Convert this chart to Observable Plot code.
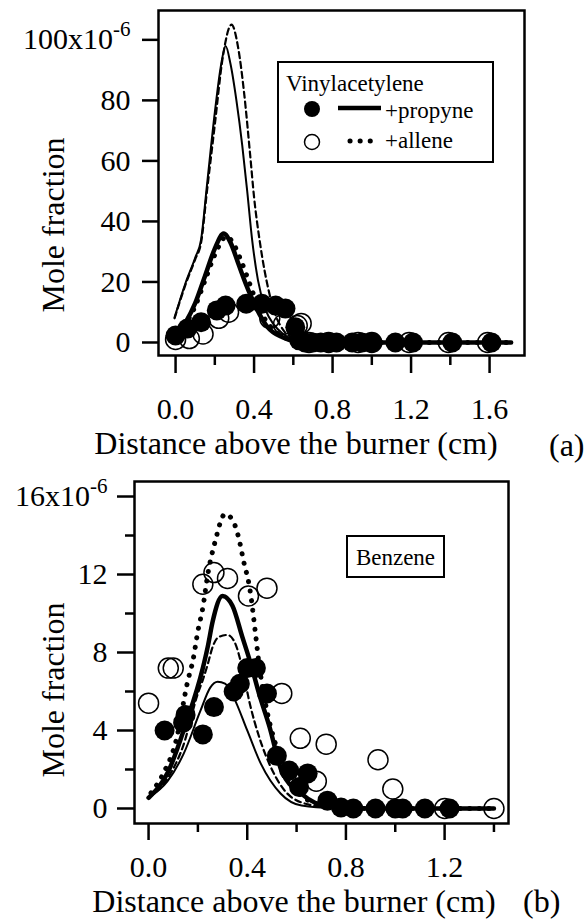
<!DOCTYPE html>
<html><head><meta charset="utf-8">
<script src="https://cdn.jsdelivr.net/npm/d3@7"></script>
<script src="https://cdn.jsdelivr.net/npm/@observablehq/plot@0.6"></script>
<style>
body{margin:0;background:#fff;}
#wrap{position:relative;width:584px;height:920px;background:#fff;}
#wrap svg{position:absolute;left:0;overflow:visible;}
</style></head><body><div id="wrap"></div>
<script>
// ---------- Panel (a): Vinylacetylene ----------
const aPropyneX = [0.0, 0.06, 0.13, 0.21, 0.255, 0.36, 0.44, 0.51, 0.56, 0.61, 0.63, 0.66, 0.70, 0.74, 0.78, 0.82, 0.90, 0.95, 1.0, 1.12, 1.21, 1.41, 1.61];
const aPropyneY = [2.3, 4.6, 6.7, 10.6, 12.2, 12.8, 12.8, 12.2, 11.2, 5.0, 0.7, 0, 0, 0, 0, 0, 0, 0, 0, 0, 0, 0, 0];
const aAlleneX = [0.0, 0.07, 0.14, 0.22, 0.27, 0.48, 0.55, 0.62, 0.64, 0.68, 0.78, 0.93, 1.0, 1.19, 1.39, 1.59];
const aAlleneY = [1.0, 1.3, 2.8, 8.0, 10.0, 8.0, 6.0, 5.6, 6.3, 0, 0, 0, 0, 0, 0, 0];
const aModelPropyneX = [0.015, 0.05, 0.1, 0.15, 0.2, 0.245, 0.28, 0.32, 0.36, 0.41, 0.47, 0.545, 0.6, 0.7, 1.0, 1.4, 1.71];
const aModelPropyneY = [3, 6.5, 13, 22, 31, 36, 33, 26, 19, 11.6, 5, 1.7, 0.5, 0, 0, 0, 0];
const aModelAlleneX = [0.015, 0.05, 0.1, 0.15, 0.2, 0.26, 0.3, 0.34, 0.38, 0.42, 0.48, 0.55, 0.62, 0.7, 1.0, 1.4, 1.71];
const aModelAlleneY = [2.8, 6, 12, 20.5, 29, 35, 32, 26, 19, 12, 5.5, 1.8, 0.5, 0, 0, 0, 0];
const aModel2PropyneX = [-0.005, 0.05, 0.1, 0.13, 0.16, 0.2, 0.23, 0.255, 0.28, 0.31, 0.34, 0.365, 0.39, 0.42, 0.46, 0.5, 0.545, 0.6, 0.7, 1.0, 1.4, 1.71];
const aModel2PropyneY = [8.3, 19.5, 28, 34, 52, 76, 91, 98, 92, 80, 65, 50, 34, 20.5, 10.6, 6, 3, 1, 0, 0, 0, 0];
const aModel2AlleneX = [-0.005, 0.05, 0.1, 0.13, 0.16, 0.2, 0.24, 0.285, 0.32, 0.35, 0.38, 0.40, 0.43, 0.475, 0.51, 0.55, 0.6, 0.7, 1.0, 1.4, 1.71];
const aModel2AlleneY = [8, 19, 27.5, 33, 50, 72, 94, 105, 97, 82, 62, 48, 33, 17, 9, 4, 1.5, 0, 0, 0, 0];
const aYTicks = [0, 20, 40, 60, 80, 100];
const aXTicks = [0.0, 0.4, 0.8, 1.2, 1.6];
const aXMinor = [0.2, 0.6, 1.0, 1.4];

// ---------- Panel (b): Benzene ----------
const bPropyneX = [0.065, 0.14, 0.15, 0.22, 0.265, 0.345, 0.37, 0.40, 0.435, 0.48, 0.52, 0.57, 0.61, 0.645, 0.725, 0.78, 0.83, 0.92, 1.0, 1.03, 1.12, 1.22];
const bPropyneY = [4.0, 4.4, 4.8, 3.8, 5.2, 6.0, 6.4, 7.2, 7.2, 5.9, 2.7, 1.95, 1.1, 1.8, 0.4, 0.05, 0, 0, 0, 0, 0, 0];
const bAlleneX = [0.0, 0.08, 0.1, 0.22, 0.265, 0.32, 0.405, 0.48, 0.54, 0.615, 0.68, 0.72, 0.93, 0.99, 1.2, 1.4];
const bAlleneY = [5.4, 7.2, 7.2, 11.5, 12.1, 11.8, 10.9, 11.3, 5.9, 3.6, 1.4, 3.3, 2.5, 1.0, 0, 0];
const bModelPropyneX = [0.0, 0.08, 0.15, 0.22, 0.24, 0.26, 0.30, 0.34, 0.38, 0.41, 0.45, 0.49, 0.54, 0.62, 0.73, 0.9, 1.2, 1.4];
const bModelPropyneY = [0.55, 1.9, 4.3, 7.2, 8.3, 9.6, 10.9, 10.4, 8.8, 7.6, 5.8, 4.2, 1.9, 0.75, 0.1, 0, 0, 0];
const bModelAlleneX = [0.01, 0.06, 0.11, 0.16, 0.18, 0.2, 0.22, 0.24, 0.27, 0.31, 0.34, 0.365, 0.385, 0.41, 0.435, 0.445, 0.48, 0.51, 0.56, 0.65, 0.75, 0.9, 1.2, 1.4];
const bModelAlleneY = [0.8, 1.8, 3.4, 6.6, 7.6, 9.1, 10.3, 12.0, 13.7, 15.1, 14.8, 13.9, 12.7, 11.3, 8.8, 7.7, 5.0, 3.5, 1.8, 0.4, 0.1, 0, 0, 0];
const bModel2PropyneX = [0.0, 0.077, 0.142, 0.21, 0.25, 0.28, 0.31, 0.345, 0.4, 0.455, 0.535, 0.62, 0.75, 0.9, 1.2, 1.4];
const bModel2PropyneY = [0.55, 1.4, 2.8, 5.0, 6.2, 6.5, 6.4, 5.7, 4.0, 2.3, 0.77, 0.15, 0.02, 0, 0, 0];
const bModel2AlleneX = [0.0, 0.08, 0.14, 0.2, 0.22, 0.24, 0.26, 0.285, 0.32, 0.35, 0.38, 0.41, 0.45, 0.5, 0.56, 0.65, 0.75, 0.9];
const bModel2AlleneY = [0.55, 1.6, 3.2, 5.9, 6.6, 7.4, 8.3, 8.8, 8.9, 8.5, 7.2, 5.4, 3.6, 2.0, 0.8, 0.2, 0.05, 0];
const bYTicks = [0, 4, 8, 12, 16];
const bYMinor = [2, 6, 10, 14];
const bXTicks = [0.0, 0.4, 0.8, 1.2];
const bXMinor = [0.2, 0.6, 1.0, 1.4];

const FONT = "'Liberation Serif', 'Times New Roman', 'DejaVu Serif', serif";
const pts = (xs, ys) => xs.map((x, i) => ({x, y: ys[i]}));

function curves(p1x, p1y, a1x, a1y, p2x, p2y, a2x, a2y) {
  return [
    Plot.line(pts(p2x, p2y), {x: "x", y: "y", curve: "monotone-x", stroke: "black", strokeWidth: 2}),
    Plot.line(pts(a2x, a2y), {x: "x", y: "y", curve: "monotone-x", stroke: "black", strokeWidth: 2.2, strokeDasharray: "6,4"}),
    Plot.line(pts(p1x, p1y), {x: "x", y: "y", curve: "monotone-x", stroke: "black", strokeWidth: 4.5}),
    Plot.line(pts(a1x, a1y), {x: "x", y: "y", curve: "monotone-x", stroke: "black", strokeWidth: 5, strokeDasharray: "0.1,9.5", strokeLinecap: "round"})
  ];
}

const styleObj = {fontFamily: FONT, fontSize: "30px", color: "black", background: "transparent", overflow: "visible"};

const plotA = Plot.plot({
  width: 584, height: 470,
  marginLeft: 158, marginRight: 60, marginTop: 10, marginBottom: 115,
  style: styleObj,
  x: {domain: [-0.087, 1.778]},
  y: {domain: [-4.3, 109.7]},
  marks: [
    ...curves(aModelPropyneX, aModelPropyneY, aModelAlleneX, aModelAlleneY, aModel2PropyneX, aModel2PropyneY, aModel2AlleneX, aModel2AlleneY),
    Plot.dot(pts(aAlleneX, aAlleneY), {x: "x", y: "y", r: 10, stroke: "black", strokeWidth: 1.5, fill: "none"}),
    Plot.dot(pts(aPropyneX, aPropyneY), {x: "x", y: "y", r: 10, fill: "black"}),
    Plot.frame({stroke: "black", strokeWidth: 2.5}),
    Plot.axisY(aYTicks, {tickSize: 16, tickPadding: 12, strokeWidth: 2.5, label: null, tickFormat: d => d === 100 ? "100x10" : String(d)}),
    Plot.axisX(aXTicks, {tickSize: 18, tickPadding: 24, strokeWidth: 2.5, label: null, tickFormat: d3.format(".1f")}),
    Plot.axisX(aXMinor, {tickSize: 10, strokeWidth: 2.5, label: null, tickFormat: () => ""})
  ]
});

const plotB = Plot.plot({
  width: 584, height: 450,
  marginLeft: 134, marginRight: 76, marginTop: 11, marginBottom: 97,
  style: styleObj,
  x: {domain: [-0.057, 1.459]},
  y: {domain: [-0.77, 16.77]},
  marks: [
    ...curves(bModelPropyneX, bModelPropyneY, bModelAlleneX, bModelAlleneY, bModel2PropyneX, bModel2PropyneY, bModel2AlleneX, bModel2AlleneY),
    Plot.dot(pts(bAlleneX, bAlleneY), {x: "x", y: "y", r: 10, stroke: "black", strokeWidth: 1.5, fill: "none"}),
    Plot.dot(pts(bPropyneX, bPropyneY), {x: "x", y: "y", r: 10, fill: "black"}),
    Plot.frame({stroke: "black", strokeWidth: 2.5}),
    Plot.axisY(bYTicks, {tickSize: 17, tickPadding: 10, strokeWidth: 2.5, label: null, tickFormat: d => d === 16 ? "16x10" : String(d)}),
    Plot.axisY(bYMinor, {tickSize: 9, strokeWidth: 2.5, label: null, tickFormat: () => ""}),
    Plot.axisX(bXTicks, {tickSize: 17, tickPadding: 15, strokeWidth: 2.5, label: null, tickFormat: d3.format(".1f")}),
    Plot.axisX(bXMinor, {tickSize: 9, strokeWidth: 2.5, label: null, tickFormat: () => ""})
  ]
});

const wrap = document.getElementById("wrap");
plotA.style.top = "0px";
plotB.style.top = "470px";
wrap.appendChild(plotA);
wrap.appendChild(plotB);

function sup(svg, base) {
  d3.select(svg).selectAll("text").filter(function () { return this.textContent === base; })
    .append("tspan").attr("dy", -13).attr("font-size", 21).text("-6");
}
sup(plotA, "100x10");
sup(plotB, "16x10");

function addText(svg, x, y, str, size, anchor, rotate) {
  const t = d3.select(svg).append("text")
    .attr("font-family", FONT).attr("font-size", size).attr("fill", "black")
    .attr("text-anchor", anchor || "start").text(str);
  if (rotate) t.attr("transform", `translate(${x},${y}) rotate(-90)`);
  else t.attr("x", x).attr("y", y);
  return t;
}

// Panel (a) titles and legend
addText(plotA, 296, 454, "Distance above the burner (cm)", 32, "middle");
addText(plotA, 549, 456, "(a)", 32, "start");
addText(plotA, 64, 225, "Mole fraction", 32, "middle", true);
const ga = d3.select(plotA).append("g");
ga.append("rect").attr("x", 278).attr("y", 62).attr("width", 215).attr("height", 100)
  .attr("fill", "white").attr("stroke", "black").attr("stroke-width", 2);
addText(plotA, 286, 91, "Vinylacetylene", 23, "start");
ga.append("circle").attr("cx", 312).attr("cy", 109).attr("r", 8).attr("fill", "black");
ga.append("line").attr("x1", 338).attr("x2", 381).attr("y1", 108).attr("y2", 108)
  .attr("stroke", "black").attr("stroke-width", 4.5);
addText(plotA, 385, 118, "+propyne", 23, "start");
ga.append("circle").attr("cx", 312).attr("cy", 142).attr("r", 7.5).attr("fill", "none")
  .attr("stroke", "black").attr("stroke-width", 1.5);
ga.append("line").attr("x1", 350).attr("x2", 371).attr("y1", 141).attr("y2", 141)
  .attr("stroke", "black").attr("stroke-width", 5).attr("stroke-dasharray", "0.1,10").attr("stroke-linecap", "round");
addText(plotA, 385, 148, "+allene", 23, "start");

// Panel (b) titles and label box
addText(plotB, 294, 442, "Distance above the burner (cm)", 32, "middle");
addText(plotB, 523, 442, "(b)", 32, "start");
addText(plotB, 64, 220, "Mole fraction", 32, "middle", true);
d3.select(plotB).append("rect").attr("x", 347).attr("y", 66).attr("width", 97).attr("height", 41)
  .attr("fill", "white").attr("stroke", "black").attr("stroke-width", 2);
addText(plotB, 395.5, 95, "Benzene", 23, "middle");
</script>
</body></html>
